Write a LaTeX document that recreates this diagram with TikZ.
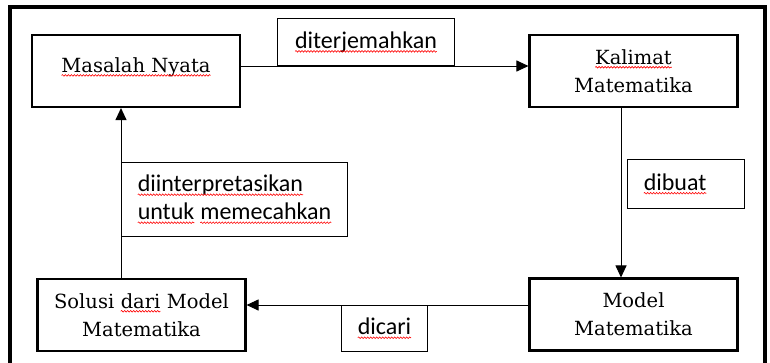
\documentclass[tikz,border=0pt]{standalone}
\usepackage{fontspec}
\setmainfont{DejaVu Serif}
\newfontfamily\labelfont{Carlito}
\usetikzlibrary{arrows.meta,decorations.pathmorphing}

% red wavy underline (spell check marks)
\tikzset{plainword/.style={draw=none,inner sep=0pt,outer sep=0pt,minimum width=0pt,minimum height=0pt,text width={},anchor=center}}
\newcommand{\typo}[1]{\tikz[baseline=(w.base)]{\node[plainword] (w) {#1};
  \draw[red,line width=0.6pt,decorate,decoration={snake,amplitude=0.8pt,segment length=3pt}] ([yshift=-3pt]w.base west) -- ([yshift=-3pt]w.base east);}}

\tikzset{mainbox/.style={draw,line width=2.1pt,minimum width=208,minimum height=72,align=center,font=\fontsize{19.5}{28}\selectfont},
         labelbox/.style={draw,line width=0.9pt,inner xsep=16,align=left,font=\labelfont\fontsize{24}{28}\selectfont},
         flow/.style={line width=1pt,-{Triangle[length=12pt,width=11pt]}}}

\begin{document}
\begin{tikzpicture}[x=1pt,y=-1pt]
        \clip (0,0) rectangle (770,362);
        % draw the frame
        \draw[line width=3.4pt] (10,7) rectangle (765,380);
        % draw the boxes
        \node[mainbox] (masalah) at (136,71) {\typo{Masalah Nyata}\\[-16pt]};
        \node[mainbox] (kalimat) at (633.5,71) {\typo{Kalimat}\\Matematika};
        \node[mainbox] (model) at (633.5,314.5) {Model\\Matematika};
        \node[mainbox] (solusi) at (141.5,315) {Solusi \typo{dari} Model\\Matematika};
        % draw the arrows
        \coordinate (up) at (121,0);
        \coordinate (down) at (621,0);
        \draw[flow] ([yshift=5]masalah.east) -- ([yshift=5]kalimat.west);
        \draw[flow] (kalimat.south -| down) -- (model.north -| down);
        \draw[flow] ([yshift=9.5]model.west) -- ([yshift=10]solusi.east);
        \draw[flow] (solusi.north -| up) -- (masalah.south -| up);
        % draw the labels
        \node[labelbox,anchor=south west,minimum width=177,minimum height=47] (terjemah) at (277,66) {\typo{diterjemahkan}};
        \node[labelbox,anchor=north west,text width=85,minimum height=49] (buat) at (627,159) {\typo{dibuat}};
        \node[labelbox,anchor=north west,minimum width=83,minimum height=46] (cari) at (341,305) {\typo{dicari}};
        \node[labelbox,anchor=north west,minimum width=220,minimum height=74] (tafsir) at (121,162) {\typo{diinterpretasikan}\\\typo{untuk} \typo{memecahkan}};
    \end{tikzpicture}
\end{document}
